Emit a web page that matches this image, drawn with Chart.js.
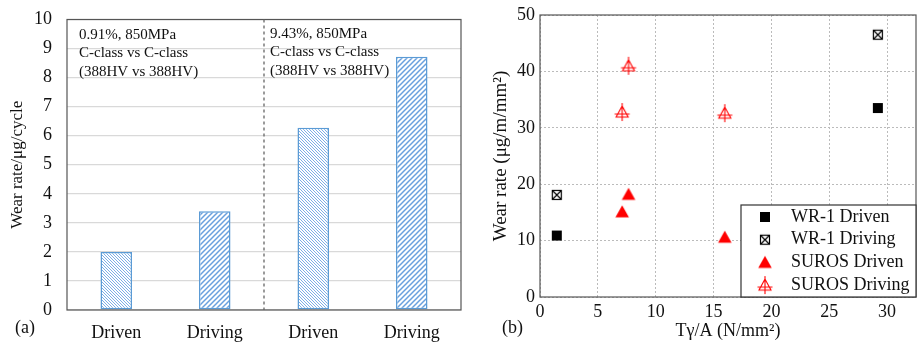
<!DOCTYPE html>
<html lang="en">
<head>
    <meta charset="UTF-8">
    <title>Wear rate charts</title>
    <script src="https://cdn.jsdelivr.net/npm/chart.js@4.4.1/dist/chart.umd.min.js"></script>
    <style>
        body { margin: 0; background: #fff; }
        #wrapA { position: absolute; left: 0; top: 0; width: 462px; height: 342px; }
        #wrapB { position: absolute; left: 462px; top: 0; width: 459px; height: 342px; }
    </style>
</head>
<body>
    <div id="wrapA"><canvas id="barChart"></canvas></div>
    <div id="wrapB"><canvas id="scatterChart"></canvas></div>

    <script>
        // (a) bar chart data
        const categories = ['Driven', 'Driving', 'Driven', 'Driving'];
        const wearRates = [2.0, 3.4, 6.27, 8.72];
        const notes = [
            ['0.91%, 850MPa', 'C-class vs C-class', '(388HV vs 388HV)'],
            ['9.43%, 850MPa', 'C-class vs C-class', '(388HV vs 388HV)']
        ];

        // (b) scatter data
        const wr1DrivenX = [1.45, 29.2];
        const wr1DrivenY = [10.9, 33.5];
        const wr1DrivingX = [1.45, 29.2];
        const wr1DrivingY = [18.1, 46.5];
        const surosDrivenX = [7.1, 7.65, 15.97];
        const surosDrivenY = [15.1, 18.2, 10.6];
        const surosDrivingX = [7.1, 7.65, 15.97];
        const surosDrivingY = [32.8, 41.0, 32.6];

        const serif = "'Liberation Serif', 'Times New Roman', serif";

        function hatch(dir, gap, color, lw) {
            const c = document.createElement('canvas');
            c.width = gap; c.height = gap;
            const g = c.getContext('2d');
            g.fillStyle = '#fff';
            g.fillRect(0, 0, gap, gap);
            g.strokeStyle = color;
            g.lineWidth = lw;
            g.beginPath();
            if (dir === 'back') {
                g.moveTo(-1, -1); g.lineTo(gap + 1, gap + 1);
                g.moveTo(-1, gap - 1); g.lineTo(1, gap + 1);
                g.moveTo(gap - 1, -1); g.lineTo(gap + 1, 1);
            } else {
                g.moveTo(-1, gap + 1); g.lineTo(gap + 1, -1);
                g.moveTo(-1, 1); g.lineTo(1, -1);
                g.moveTo(gap - 1, gap + 1); g.lineTo(gap + 1, gap - 1);
            }
            g.stroke();
            return document.createElement('canvas').getContext('2d').createPattern(c, 'repeat');
        }

        const drivenFill = hatch('back', 3, '#7eaee6', 1);
        const drivingFill = hatch('fwd', 5, '#6aa0de', 1.5);

        // drop the label overflow padding so the plot box sits where the layout says
        function noOverflow(s) { s.paddingTop = 0; s.paddingBottom = 0; s.paddingLeft = 0; s.paddingRight = 0; }

        const framePlugin = {
            id: 'frame',
            afterDraw(chart) {
                const a = chart.chartArea, ctx = chart.ctx;
                ctx.save();
                ctx.strokeStyle = '#555';
                ctx.lineWidth = 1.2;
                ctx.strokeRect(a.left, a.top, a.right - a.left, a.bottom - a.top);
                ctx.restore();
            }
        };

        const barNotes = {
            id: 'barNotes',
            afterDraw(chart) {
                const ctx = chart.ctx, a = chart.chartArea, xs = chart.scales.x;
                const midX = (xs.getPixelForTick(1) + xs.getPixelForTick(2)) / 2;
                ctx.save();
                ctx.strokeStyle = '#666';
                ctx.lineWidth = 1.3;
                ctx.setLineDash([3, 3]);
                ctx.beginPath();
                ctx.moveTo(midX, a.top);
                ctx.lineTo(midX, a.bottom);
                ctx.stroke();
                ctx.setLineDash([]);
                ctx.fillStyle = '#111';
                ctx.font = '15px ' + serif;
                ctx.textBaseline = 'middle';
                const starts = [[a.left + 12, 35], [midX + 6, 34]];
                notes.forEach((lines, i) => {
                    lines.forEach((t, j) => ctx.fillText(t, starts[i][0], starts[i][1] + j * 18.5));
                });
                ctx.font = '18px ' + serif;
                ctx.fillText('(a)', 15, 328);
                ctx.restore();
            }
        };

        new Chart(document.getElementById('barChart'), {
            type: 'bar',
            data: {
                labels: categories,
                datasets: [{
                    data: wearRates,
                    backgroundColor: [drivenFill, drivingFill, drivenFill, drivingFill],
                    borderColor: '#5b9bd5',
                    borderWidth: 1.5,
                    borderSkipped: false,
                    barPercentage: 0.32,
                    categoryPercentage: 1
                }]
            },
            options: {
                responsive: true,
                maintainAspectRatio: false,
                animation: false,
                layout: { padding: { left: 0, right: 1, top: 19.5, bottom: 0 } },
                plugins: { legend: { display: false }, tooltip: { enabled: false } },
                scales: {
                    x: {
                        grid: { display: false },
                        border: { display: false },
                        ticks: { color: '#111', padding: 4, font: { family: serif, size: 18 } },
                        afterFit(s) { s.height = 32; noOverflow(s); }
                    },
                    y: {
                        min: 0, max: 10,
                        grid: { color: '#d9d9d9', lineWidth: 1.3, drawTicks: false },
                        border: { display: false },
                        ticks: { stepSize: 1, color: '#111', padding: 15, font: { family: serif, size: 18 } },
                        title: { display: true, text: 'Wear rate/μg/cycle', color: '#111',
                                 font: { family: serif, size: 17 }, padding: { top: 7, bottom: 0 } },
                        afterFit(s) { s.width = 67; noOverflow(s); }
                    }
                }
            },
            plugins: [framePlugin, barNotes]
        });

        // marker images
        function marker(kind) {
            const c = document.createElement('canvas');
            c.width = 20; c.height = 20;
            const g = c.getContext('2d');
            g.translate(10, 10);
            if (kind === 'sq') {
                g.fillStyle = '#000';
                g.fillRect(-5, -5, 10, 10);
            } else if (kind === 'sqx') {
                g.strokeStyle = '#000';
                g.lineWidth = 1.2;
                g.strokeRect(-4.5, -4.5, 9, 9);
                g.beginPath();
                g.moveTo(-4.5, -4.5); g.lineTo(4.5, 4.5);
                g.moveTo(4.5, -4.5); g.lineTo(-4.5, 4.5);
                g.stroke();
            } else if (kind === 'tri') {
                g.fillStyle = '#ff0000';
                g.beginPath();
                g.moveTo(0, -6.5); g.lineTo(6.8, 5.5); g.lineTo(-6.8, 5.5);
                g.closePath();
                g.fill();
            } else {
                g.strokeStyle = '#ff0000';
                g.lineWidth = 1.1;
                g.beginPath();
                g.moveTo(0, -6); g.lineTo(6, 5); g.lineTo(-6, 5);
                g.closePath();
                g.moveTo(0, -9); g.lineTo(0, 9);
                g.moveTo(-7.5, 2); g.lineTo(7.5, 2);
                g.stroke();
            }
            return c;
        }

        const styles = [marker('sq'), marker('sqx'), marker('tri'), marker('trix')];

        function pts(xs, ys) { return xs.map((x, i) => ({ x: x, y: ys[i] })); }

        const legendBox = {
            id: 'legendBox',
            afterDraw(chart) {
                const ctx = chart.ctx, a = chart.chartArea;
                const bx = a.right - 175, by = a.bottom - 92;
                ctx.save();
                ctx.fillStyle = '#fff';
                ctx.fillRect(bx, by, a.right - bx, a.bottom - by);
                ctx.strokeStyle = '#333';
                ctx.lineWidth = 1.2;
                ctx.strokeRect(bx, by, a.right - bx, a.bottom - by);
                ctx.font = '18px ' + serif;
                ctx.fillStyle = '#111';
                ctx.textBaseline = 'middle';
                chart.data.datasets.forEach((ds, i) => {
                    const y = by + 12 + i * 22.7;
                    ctx.drawImage(styles[i], bx + 24 - 10, y - 10);
                    ctx.fillText(ds.label, bx + 50, y);
                });
                ctx.font = '18px ' + serif;
                ctx.fillText('(b)', 40, 328);
                ctx.restore();
            }
        };

        new Chart(document.getElementById('scatterChart'), {
            type: 'scatter',
            data: {
                datasets: [
                    { label: 'WR-1 Driven', data: pts(wr1DrivenX, wr1DrivenY), pointStyle: styles[0] },
                    { label: 'WR-1 Driving', data: pts(wr1DrivingX, wr1DrivingY), pointStyle: styles[1] },
                    { label: 'SUROS Driven', data: pts(surosDrivenX, surosDrivenY), pointStyle: styles[2] },
                    { label: 'SUROS Driving', data: pts(surosDrivingX, surosDrivingY), pointStyle: styles[3] }
                ]
            },
            options: {
                responsive: true,
                maintainAspectRatio: false,
                animation: false,
                layout: { padding: { left: 0, right: 3, top: 15, bottom: 0 } },
                plugins: { legend: { display: false }, tooltip: { enabled: false } },
                scales: {
                    x: {
                        type: 'linear',
                        min: 0, max: 32.5,
                        grid: { color: '#bbb', lineWidth: 1, drawTicks: false },
                        border: { display: false, dash: [2, 2] },
                        ticks: { stepSize: 5, includeBounds: false, color: '#111', padding: 4,
                                 font: { family: serif, size: 18 } },
                        title: { display: true, text: 'Tγ/A (N/mm²)', color: '#111',
                                 font: { family: serif, size: 18 }, padding: { top: 0, bottom: 0 } },
                        afterFit(s) { s.height = 45; noOverflow(s); }
                    },
                    y: {
                        min: 0, max: 50,
                        grid: { color: '#bbb', lineWidth: 1, drawTicks: false },
                        border: { display: false, dash: [2, 2] },
                        ticks: { stepSize: 10, color: '#111', padding: 5, font: { family: serif, size: 18 } },
                        title: { display: true, text: 'Wear rate (μg/m/mm²)', color: '#111',
                                 font: { family: serif, size: 19 }, padding: { top: 28, bottom: 0 } },
                        afterFit(s) { s.width = 78; noOverflow(s); }
                    }
                }
            },
            plugins: [framePlugin, legendBox]
        });
    </script>
</body>
</html>
